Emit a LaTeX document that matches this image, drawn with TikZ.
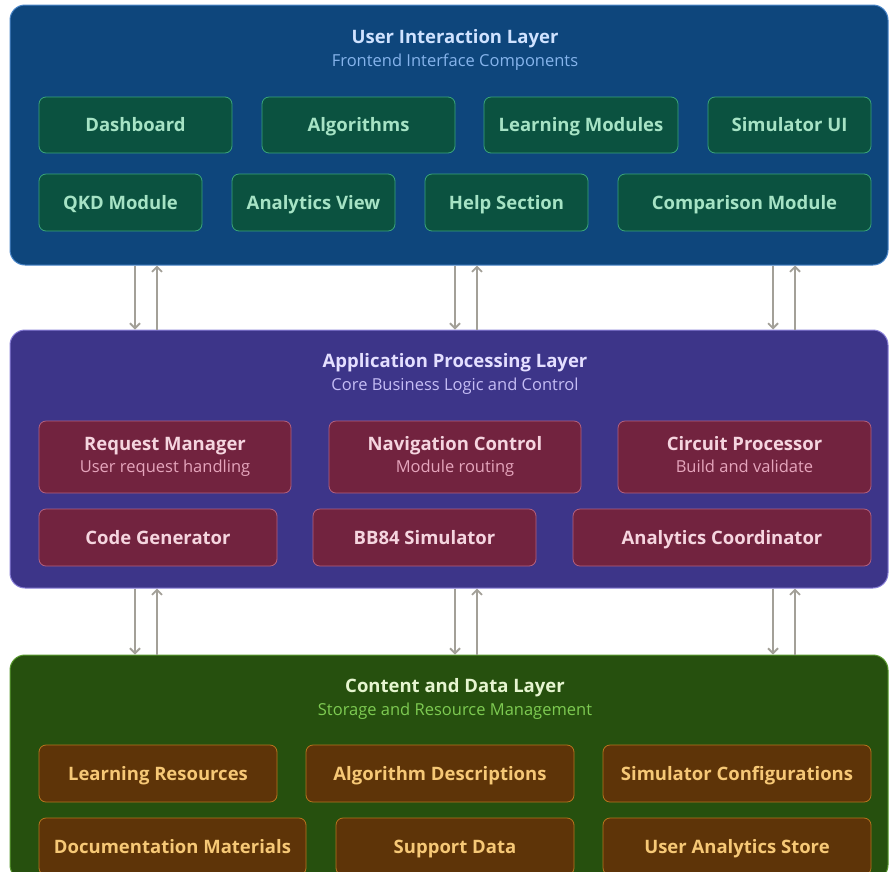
\documentclass[tikz,border=0pt]{standalone}
\usepackage{fontspec}
\setmainfont{Open Sans}
\usetikzlibrary{arrows.meta}
% layer palettes
\definecolor{uiback}{HTML}{0E467C}
\definecolor{uiedge}{HTML}{4A86C8}
\definecolor{uititle}{HTML}{CFE2FF}
\definecolor{uisub}{HTML}{86B4EC}
\definecolor{uibox}{HTML}{0B5240}
\definecolor{uiboxedge}{HTML}{3AA57A}
\definecolor{uitext}{HTML}{A6E3C5}
\definecolor{appback}{HTML}{3D3589}
\definecolor{appedge}{HTML}{8A80D8}
\definecolor{apptitle}{HTML}{E4DFFF}
\definecolor{appsub}{HTML}{C5BDF5}
\definecolor{appbox}{HTML}{72233F}
\definecolor{appboxedge}{HTML}{B4607E}
\definecolor{apptext}{HTML}{F5D5DF}
\definecolor{appboxsub}{HTML}{E5A5BC}
\definecolor{databack}{HTML}{26500E}
\definecolor{dataedge}{HTML}{5A9A30}
\definecolor{datatitle}{HTML}{E6F5D0}
\definecolor{datasub}{HTML}{7ECB52}
\definecolor{databox}{HTML}{5E3408}
\definecolor{databoxedge}{HTML}{B8741E}
\definecolor{datatext}{HTML}{F6C876}
\definecolor{flowgray}{HTML}{A3A098}
\tikzset{
  % Base styles
  arch base/.style={
    x=1pt, y=-1pt,
    >={Straight Barb[length=5pt,width=10pt]},
  },
  % Layer panels
  layer/.style={rectangle, rounded corners=15pt, line width=1pt, inner sep=0pt},
  layer title/.style={font=\bfseries\fontsize{18.5}{22}\selectfont},
  layer sub/.style={font=\fontsize{16.5}{19}\selectfont},
  % Component boxes
  module base/.style={rectangle, rounded corners=7pt, line width=0.8pt, inner sep=0pt,
    align=center, font=\bfseries\fontsize{18.5}{22}\selectfont},
  module/.style={module base,
    execute at begin node={\rule[-0.3em]{0pt}{1.35em}}},
  ui module/.style={module, fill=uibox, draw=uiboxedge, text=uitext},
  app module/.style={module, fill=appbox, draw=appboxedge, text=apptext},
  app note module/.style={module base, fill=appbox, draw=appboxedge, text=apptext,
    execute at begin node={\vphantom{Ag}}, execute at end node={\vphantom{Ag}}},
  data module/.style={module, fill=databox, draw=databoxedge, text=datatext},
  % Inter-layer flow
  flow/.style={->, line width=1.8pt, draw=flowgray},
}
\newcommand{\boxnote}[1]{\\[0pt]{\mdseries\fontsize{16.5}{19}\selectfont\color{appboxsub}#1}}

\begin{document}
\begin{tikzpicture}[arch base]
  \useasboundingbox (0,0) rectangle (890,871);
  \fill[white] (0,0) rectangle (890,871);

  % --- User interaction layer ---
  \node[layer, fill=uiback, draw=uiedge, minimum width=878, minimum height=260] (ui) at (449,135) {};
  \node[layer title, text=uititle] (uihead) at (455,39) {User Interaction Layer};
  \node[layer sub, text=uisub] (uinote) at (455,62) {Frontend Interface Components};
  \node[ui module, minimum width=193, minimum height=56] (dash) at (135.5,125) {Dashboard};
  \node[ui module, minimum width=193, minimum height=56] (algo) at (358.5,125) {Algorithms};
  \node[ui module, minimum width=194, minimum height=56] (learn) at (581,125) {Learning Modules};
  \node[ui module, minimum width=163, minimum height=56] (simui) at (789.5,125) {Simulator UI};
  \node[ui module, minimum width=163, minimum height=57] (qkd) at (120.5,202.5) {QKD Module};
  \node[ui module, minimum width=163, minimum height=57] (anview) at (313.5,202.5) {Analytics View};
  \node[ui module, minimum width=163, minimum height=57] (help) at (506.5,202.5) {Help Section};
  \node[ui module, minimum width=253, minimum height=57] (compare) at (744.5,202.5) {Comparison Module};

  % --- Application processing layer ---
  \node[layer, fill=appback, draw=appedge, minimum width=878, minimum height=258] (app) at (449,459) {};
  \node[layer title, text=apptitle] (apphead) at (455,363) {Application Processing Layer};
  \node[layer sub, text=appsub] (appnote) at (455,386) {Core Business Logic and Control};
  \node[app note module, minimum width=252, minimum height=72] (reqmgr) at (165,457) {Request Manager\boxnote{User request handling}};
  \node[app note module, minimum width=252, minimum height=72] (navctl) at (455,457) {Navigation Control\boxnote{Module routing}};
  \node[app note module, minimum width=253, minimum height=72] (circproc) at (744.5,457) {Circuit Processor\boxnote{Build and validate}};
  \node[app module, minimum width=238, minimum height=57] (codegen) at (158,537.5) {Code Generator};
  \node[app module, minimum width=223, minimum height=57] (bbsim) at (424.5,537.5) {BB84 Simulator};
  \node[app module, minimum width=298, minimum height=57] (ancoord) at (722,537.5) {Analytics Coordinator};

  % --- Content and data layer ---
  \node[layer, fill=databack, draw=dataedge, minimum width=878, minimum height=225] (data) at (449,767.5) {};
  \node[layer title, text=datatitle] (datahead) at (455,688) {Content and Data Layer};
  \node[layer sub, text=datasub] (datanote) at (455,711) {Storage and Resource Management};
  \node[data module, minimum width=238, minimum height=57] (learnres) at (158,773.5) {Learning Resources};
  \node[data module, minimum width=268, minimum height=57] (algodesc) at (440,773.5) {Algorithm Descriptions};
  \node[data module, minimum width=268, minimum height=57] (simconf) at (737,773.5) {Simulator Configurations};
  \node[data module, minimum width=267, minimum height=57] (docmat) at (172.5,846.5) {Documentation Materials};
  \node[data module, minimum width=238, minimum height=57] (support) at (455,846.5) {Support Data};
  \node[data module, minimum width=268, minimum height=57] (anstore) at (737,846.5) {User Analytics Store};

  % requests go down, responses come back up
  \foreach \dx in {-314,6,324} {
    \draw[flow] ([xshift=\dx pt]ui.south) -- ([xshift=\dx pt]app.north);
    \draw[flow] ([xshift=\dx pt+22pt]app.north) -- ([xshift=\dx pt+22pt]ui.south);
    \draw[flow] ([xshift=\dx pt]app.south) -- ([xshift=\dx pt]data.north);
    \draw[flow] ([xshift=\dx pt+22pt]data.north) -- ([xshift=\dx pt+22pt]app.south);
  }
\end{tikzpicture}
\end{document}
